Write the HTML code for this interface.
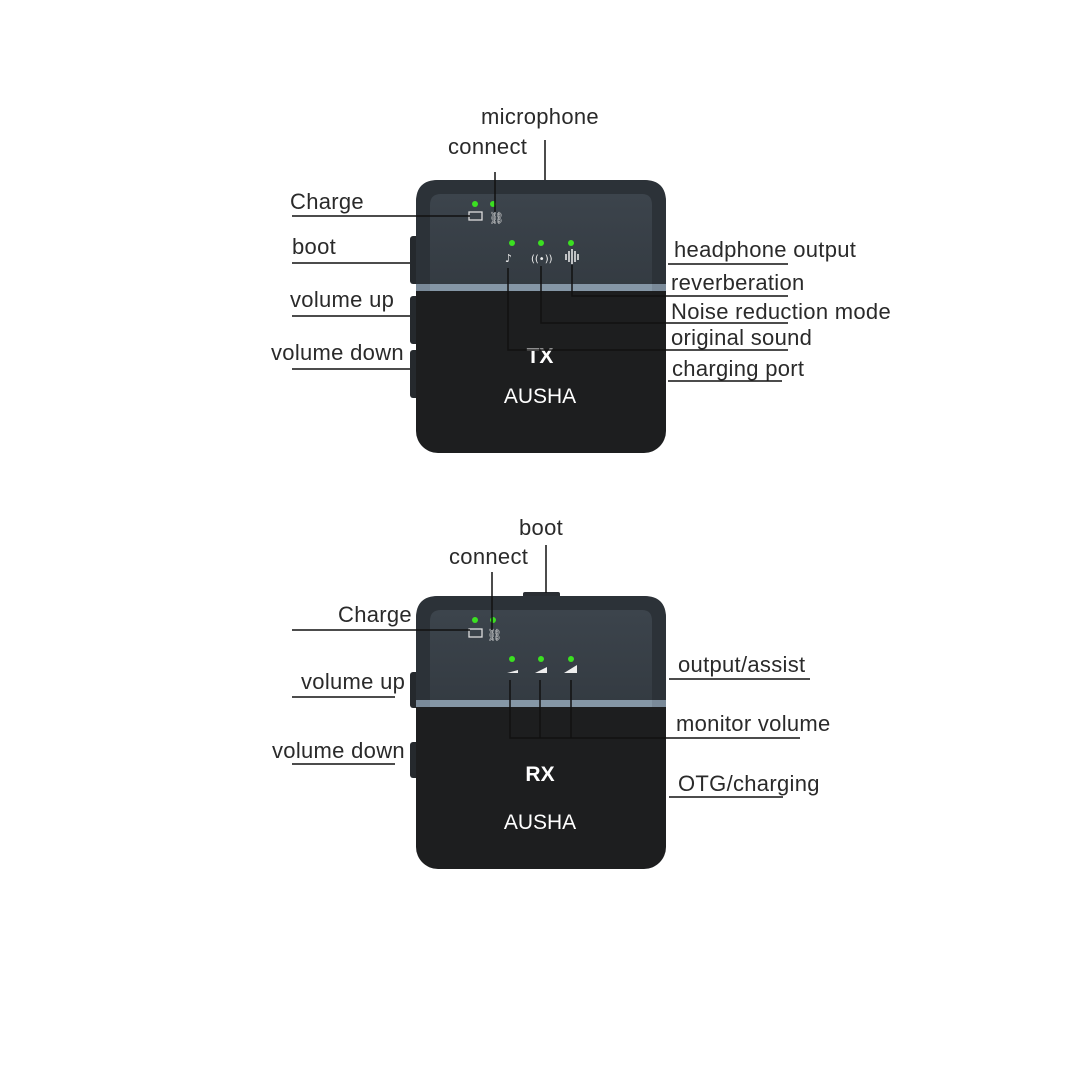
<!DOCTYPE html>
<html><head><meta charset="utf-8"><style>
body{margin:0;width:1080px;height:1080px;background:#fff;position:relative;overflow:hidden;font-family:"Liberation Sans",sans-serif}
.t{position:absolute;font-size:22px;letter-spacing:0.3px;color:#2a2a2a;white-space:nowrap;line-height:22px}
svg{position:absolute;left:0;top:0}
</style></head><body>
<svg width="1080" height="1080" viewBox="0 0 1080 1080">
<defs>
<linearGradient id="tp" x1="0" y1="0" x2="0" y2="1"><stop offset="0" stop-color="#3c444c"/><stop offset="1" stop-color="#343b42"/></linearGradient>
</defs>
<g>
<rect x="410" y="236" width="10" height="48" rx="3" fill="#25292d"/>
<rect x="410" y="296" width="10" height="48" rx="3" fill="#25292d"/>
<rect x="410" y="350" width="10" height="48" rx="3" fill="#25292d"/>
<rect x="416" y="180" width="250" height="273" rx="22" fill="#1d1e1f"/>
<path d="M416 286 V202 Q416 180 438 180 H644 Q666 180 666 202 V286 Z" fill="#2c3238"/>
<path d="M430 286 V205 Q430 194 441 194 H642 Q652 194 652 205 V286 Z" fill="url(#tp)"/>
<rect x="416" y="284" width="250" height="7" fill="#7a8a99"/>
<rect x="430" y="284" width="222" height="7" fill="#8597a6"/>
<circle cx="475" cy="204" r="3" fill="#3be021"/><circle cx="493" cy="204" r="3" fill="#3be021"/>
<rect x="469" y="212" width="13" height="8" fill="none" stroke="#ddd" stroke-width="1.3"/>
<text x="489" y="222" font-size="12" fill="#ddd" font-family="DejaVu Sans">⛓</text>
<circle cx="512" cy="243" r="3" fill="#3be021"/><circle cx="541" cy="243" r="3" fill="#3be021"/><circle cx="571" cy="243" r="3" fill="#3be021"/>
<text x="505" y="262" font-size="11" fill="#eee" font-family="DejaVu Sans">♪</text>
<text x="531" y="262" font-size="10" fill="#eee" font-family="DejaVu Sans">((•))</text>
<g stroke="#eee" stroke-width="1.5"><line x1="566" y1="254" x2="566" y2="260"/><line x1="569" y1="251" x2="569" y2="262"/><line x1="572" y1="249" x2="572" y2="264"/><line x1="575" y1="251" x2="575" y2="262"/><line x1="578" y1="254" x2="578" y2="260"/></g>
<text x="540" y="363" font-size="21" font-weight="bold" fill="#fff" text-anchor="middle">TX</text>
<text x="540" y="403" font-size="21" fill="#fff" text-anchor="middle">AUSHA</text>
</g>
<g>
<rect x="523" y="592" width="37" height="8" rx="2" fill="#2a2e33"/>
<rect x="410" y="672" width="10" height="36" rx="3" fill="#25292d"/>
<rect x="410" y="742" width="10" height="36" rx="3" fill="#25292d"/>
<rect x="416" y="596" width="250" height="273" rx="22" fill="#1d1e1f"/>
<path d="M416 702 V618 Q416 596 438 596 H644 Q666 596 666 618 V702 Z" fill="#2c3238"/>
<path d="M430 702 V621 Q430 610 441 610 H642 Q652 610 652 621 V702 Z" fill="url(#tp)"/>
<rect x="416" y="700" width="250" height="7" fill="#7a8a99"/>
<rect x="430" y="700" width="222" height="7" fill="#8597a6"/>
<circle cx="475" cy="620" r="3" fill="#3be021"/><circle cx="493" cy="620" r="3" fill="#3be021"/>
<rect x="469" y="629" width="13" height="8" fill="none" stroke="#ddd" stroke-width="1.3"/>
<text x="487" y="639" font-size="12" fill="#ddd" font-family="DejaVu Sans">⛓</text>
<circle cx="512" cy="659" r="3" fill="#3be021"/><circle cx="541" cy="659" r="3" fill="#3be021"/><circle cx="571" cy="659" r="3" fill="#3be021"/>
<polygon points="507,673 518,673 518,670" fill="#eee"/>
<polygon points="535,673 547,673 547,667" fill="#eee"/>
<polygon points="564,673 577,673 577,665" fill="#eee"/>
<text x="540" y="781" font-size="21" font-weight="bold" fill="#fff" text-anchor="middle">RX</text>
<text x="540" y="829" font-size="21" fill="#fff" text-anchor="middle">AUSHA</text>
</g>
<g stroke="#111" stroke-width="1.5" fill="none">
<line x1="545" y1="140" x2="545" y2="180"/>
<polyline points="495,172 495,212"/>
<line x1="292" y1="216" x2="470" y2="216"/>
<line x1="292" y1="263" x2="410" y2="263"/>
<line x1="292" y1="316" x2="410" y2="316"/>
<line x1="292" y1="369" x2="410" y2="369"/>
<line x1="668" y1="264" x2="788" y2="264"/>
<polyline points="572,265 572,296 788,296"/>
<polyline points="541,266 541,323 788,323"/>
<polyline points="508,268 508,350 788,350"/>
<line x1="668" y1="381" x2="782" y2="381"/>
<line x1="546" y1="545" x2="546" y2="593"/>
<line x1="492" y1="572" x2="492" y2="630"/>
<line x1="292" y1="630" x2="470" y2="630"/>
<line x1="292" y1="697" x2="395" y2="697"/>
<line x1="292" y1="764" x2="395" y2="764"/>
<line x1="669" y1="679" x2="810" y2="679"/>
<polyline points="510,680 510,738 800,738"/>
<line x1="540" y1="680" x2="540" y2="738"/>
<line x1="571" y1="680" x2="571" y2="738"/>
<line x1="669" y1="797" x2="783" y2="797"/>
</g>
</svg>
<div class="t" style="left:481px;top:106px">microphone</div>
<div class="t" style="left:448px;top:136px">connect</div>
<div class="t" style="left:290px;top:191px">Charge</div>
<div class="t" style="left:292px;top:236px">boot</div>
<div class="t" style="left:290px;top:289px">volume up</div>
<div class="t" style="left:271px;top:342px">volume down</div>
<div class="t" style="left:674px;top:239px">headphone output</div>
<div class="t" style="left:671px;top:272px">reverberation</div>
<div class="t" style="left:671px;top:301px">Noise reduction mode</div>
<div class="t" style="left:671px;top:327px">original sound</div>
<div class="t" style="left:672px;top:358px">charging port</div>
<div class="t" style="left:519px;top:517px">boot</div>
<div class="t" style="left:449px;top:546px">connect</div>
<div class="t" style="left:338px;top:604px">Charge</div>
<div class="t" style="left:301px;top:671px">volume up</div>
<div class="t" style="left:272px;top:740px">volume down</div>
<div class="t" style="left:678px;top:654px">output/assist</div>
<div class="t" style="left:676px;top:713px">monitor volume</div>
<div class="t" style="left:678px;top:773px">OTG/charging</div>
</body></html>
